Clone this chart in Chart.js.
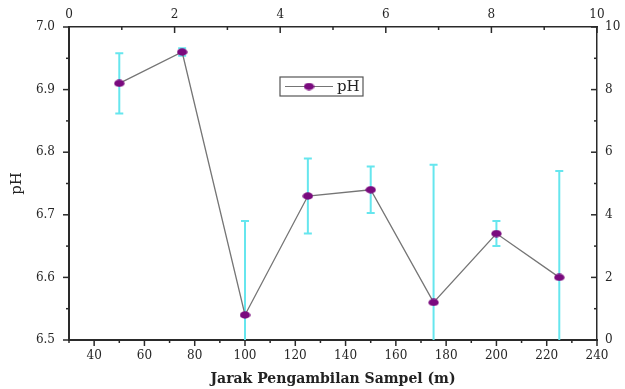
<!DOCTYPE html>
<html><head><meta charset="utf-8">
<script src="https://cdn.jsdelivr.net/npm/chart.js@4/dist/chart.umd.min.js"></script>
<style>html,body{margin:0;padding:0;background:#fff}#wrap{width:625px;height:389px}</style>
</head><body><div id="wrap"><canvas id="c" width="625" height="389"></canvas></div>
<script>
const distance = [50, 75, 100, 125, 150, 175, 200, 225];
const ph = [6.91, 6.96, 6.54, 6.73, 6.74, 6.56, 6.67, 6.60];
const phErr = [0.048, 0.006, 0.15, 0.06, 0.037, 0.22, 0.02, 0.17];
const seriesName = 'pH';
const xTitle = 'Jarak Pengambilan Sampel (m)';
const yTitle = 'pH';

const FONT = '"DejaVu Serif", "Liberation Serif", serif';
const AXIS = '#2a2a2a';
const TXT = '#262626';
const MARK = '#7a0a7e';
const LINE = '#757575';
const ERR = '#66e6ee';

function ellipse(w, h){
  const c = document.createElement('canvas'); c.width = w; c.height = h;
  const g = c.getContext('2d'); g.fillStyle = MARK;
  g.beginPath(); g.ellipse(w/2, h/2, w/2-0.3, h/2-0.3, 0, 0, Math.PI*2); g.fill();
  return c;
}
const marker = ellipse(11, 8);
const isMult = (v, s) => Math.abs(v/s - Math.round(v/s)) < 1e-6;

const errPlugin = {
  id: 'err',
  beforeDatasetsDraw(chart){
    const ctx = chart.ctx, x = chart.scales.x, y = chart.scales.y, a = chart.chartArea;
    ctx.save();
    ctx.beginPath(); ctx.rect(a.left, a.top, a.right-a.left, a.bottom-a.top); ctx.clip();
    ctx.strokeStyle = ERR; ctx.lineWidth = 2;
    distance.forEach((d, i) => {
      const px = x.getPixelForValue(d);
      const t = y.getPixelForValue(ph[i] + phErr[i]);
      const b = y.getPixelForValue(ph[i] - phErr[i]);
      ctx.beginPath(); ctx.moveTo(px, t); ctx.lineTo(px, b);
      ctx.moveTo(px-4, t); ctx.lineTo(px+4, t);
      ctx.moveTo(px-4, b); ctx.lineTo(px+4, b);
      ctx.stroke();
    });
    ctx.restore();
  }
};

const tickPlugin = {
  id: 'ticks2',
  afterDraw(chart){
    const ctx = chart.ctx; ctx.save(); ctx.strokeStyle = AXIS; ctx.lineWidth = 1.5;
    const conf = [
      ['x', 10, 20], ['x2', 1, 2], ['y', 0.05, 0.1], ['y2', 1, 2]
    ];
    conf.forEach(([id, s, m]) => {
      const sc = chart.scales[id];
      sc.ticks.forEach(t => {
        const v = t.value, len = isMult(v, m) ? 6 : 3;
        const p = sc.getPixelForValue(v);
        ctx.beginPath();
        if (id === 'x') { ctx.moveTo(p, sc.top); ctx.lineTo(p, sc.top + len); }
        else if (id === 'x2') { ctx.moveTo(p, sc.bottom); ctx.lineTo(p, sc.bottom + len); }
        else if (id === 'y') { ctx.moveTo(sc.right, p); ctx.lineTo(sc.right - len, p); }
        else { ctx.moveTo(sc.left, p); ctx.lineTo(sc.left - len, p); }
        ctx.stroke();
      });
    });
    // legend box
    const lx = 280, ly = 77, lw = 83, lh = 19;
    ctx.fillStyle = '#fff'; ctx.fillRect(lx, ly, lw, lh);
    ctx.strokeStyle = '#555'; ctx.lineWidth = 1.2; ctx.strokeRect(lx, ly, lw, lh);
    ctx.strokeStyle = LINE; ctx.lineWidth = 1.2;
    ctx.beginPath(); ctx.moveTo(lx+5, ly+lh/2); ctx.lineTo(lx+53, ly+lh/2); ctx.stroke();
    ctx.drawImage(marker, lx+29-5.5, ly+lh/2-4);
    ctx.fillStyle = '#222'; ctx.font = '15px ' + FONT; ctx.textBaseline = 'middle';
    ctx.fillText(seriesName, lx+57, ly+lh/2+1);
    ctx.restore();
  }
};

const border = { display: true, color: AXIS, width: 2 };
const tickFont = { family: FONT, size: 12 };
const noGrid = { display: false, drawTicks: false, tickLength: 0 };

new Chart(document.getElementById('c'), {
  type: 'line',
  data: {
    datasets: [{
      label: seriesName,
      data: distance.map((d, i) => ({ x: d, y: ph[i] })),
      borderColor: LINE, borderWidth: 1.3,
      pointStyle: marker, pointRadius: 5, pointHoverRadius: 5,
      backgroundColor: MARK, tension: 0, clip: false
    }]
  },
  options: {
    responsive: false, animation: false, events: [],
    layout: { padding: 0 },
    plugins: { legend: { display: false }, tooltip: { enabled: false } },
    scales: {
      x: {
        type: 'linear', position: 'bottom', min: 30, max: 240,
        grid: noGrid, border,
        ticks: { stepSize: 10, autoSkip: false, maxRotation: 0, padding: 9, color: TXT, font: tickFont,
          callback: v => (isMult(v, 20) && v >= 40) ? String(v) : '' },
        title: { display: true, text: xTitle, color: '#222', font: { family: FONT, size: 14, weight: 'bold' }, padding: { top: 2, bottom: 1 } },
        afterFit: s => { s.height = 49; }
      },
      x2: {
        type: 'linear', position: 'top', min: 0, max: 10,
        grid: noGrid, border: { display: true, color: AXIS, width: 1.5 },
        ticks: { stepSize: 1, autoSkip: false, maxRotation: 0, padding: 5, color: TXT, font: tickFont,
          callback: v => isMult(v, 2) ? String(v) : '' },
        afterFit: s => { s.height = 27; }
      },
      y: {
        type: 'linear', position: 'left', min: 6.5, max: 7.0,
        grid: noGrid, border,
        ticks: { stepSize: 0.05, autoSkip: false, padding: 14, color: TXT, font: tickFont,
          callback: v => isMult(v, 0.1) ? Number(v).toFixed(1) : '' },
        title: { display: true, text: yTitle, color: '#222', font: { family: FONT, size: 15 }, padding: { top: 8, bottom: 0 } },
        afterFit: s => { s.width = 69; }
      },
      y2: {
        type: 'linear', position: 'right', min: 0, max: 10,
        grid: noGrid, border: { display: true, color: AXIS, width: 1.5 },
        ticks: { stepSize: 1, autoSkip: false, padding: 8, color: TXT, font: tickFont,
          callback: v => isMult(v, 2) ? String(v) : '' },
        afterFit: s => { s.width = 28; }
      }
    }
  },
  plugins: [errPlugin, tickPlugin]
});
</script></body></html>
